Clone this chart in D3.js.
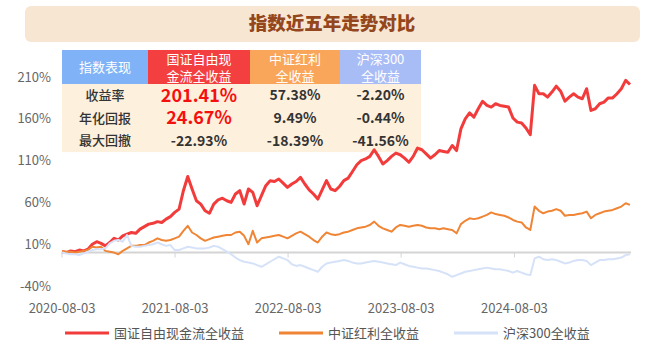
<!DOCTYPE html>
<html>
<head>
<meta charset="utf-8">
<script src="https://cdn.jsdelivr.net/npm/d3@7"></script>
<style>
  html, body { margin: 0; padding: 0; background: #fff; }
  svg { display: block; font-family: "Noto Sans CJK SC", "Noto Sans", sans-serif; }
</style>
</head>
<body>
<svg id="chart" width="658" height="352"></svg>
<script>
// ── Data (biweekly samples) ──
const startDate = new Date(2020, 7, 3);
const stepDays = 14;

const seriesNames = ["国证自由现金流全收益", "中证红利全收益", "沪深300全收益"];

const fcfValues = [
  1, 0, 2, 1, 3, 2, 4, 10, 13, 11,
  8, 12, 17, 15, 20, 22, 24, 23, 28, 31,
  34, 35, 37, 36, 40, 43, 48, 52, 74, 91,
  76, 62, 58, 50, 47, 58, 63, 65, 62, 60,
  70, 74, 58, 76, 72, 56, 68, 80, 86, 85,
  88, 83, 78, 82, 85, 90, 82, 75, 70, 64,
  75, 86, 76, 74, 79, 86, 89, 97, 105, 110,
  112, 115, 123, 115, 106, 110, 115, 119, 117, 113,
  108, 115, 125, 123, 118, 113, 117, 122, 121, 120,
  128, 122, 148, 160, 167, 162, 172, 181, 176, 174,
  178, 176, 175, 174, 161, 156, 155, 149, 141, 200,
  190, 190, 186, 192, 199, 193, 181, 186, 190, 186,
  184, 196, 170, 172, 178, 180, 185, 185, 190, 196,
  206, 201
];

const dividendValues = [
  2, 1, 1, 0, 1, 2, 3, 7, 6, 7,
  2, 1, 0, -2, 2, 5, 8, 8, 9, 9,
  12, 14, 17, 15, 14, 15, 17, 19, 26, 32,
  24, 21, 17, 14, 16, 18, 19, 20, 21, 21,
  24, 25, 20, 10, 26, 12, 17, 18, 19, 20,
  21, 19, 17, 20, 23, 25, 22, 19, 15, 12,
  19, 24, 22, 21, 22, 24, 25, 27, 29, 30,
  31, 33, 37, 32, 29, 27, 25, 30, 33, 32,
  31, 32, 33, 32, 30, 29, 29, 28, 29, 28,
  27, 23, 34, 38, 41, 40, 41, 43, 45, 48,
  46, 45, 44, 42, 39, 37, 36, 30, 27, 55,
  50, 47, 49, 50, 52, 50, 44, 45, 45, 46,
  47, 49, 41, 45, 47, 49, 50, 51, 53, 55,
  59, 57
];

const hs300Values = [
  0, -1, -2, -2, -3, -1, 1, 3, 4, 4,
  5, 11, 14, 15, 13, 21, 8, 7, 7, 8,
  9, 10, 12, 10, 8, 9, 3, 3, 5, 7,
  6, 5, 5, 5, 6, 8, 7, 4, 1, -2,
  -6, -9, -11, -12, -13, -15, -17, -14, -11, -8,
  -5, -7, -9, -14, -16, -15, -17, -19, -21, -23,
  -17, -13, -12, -11, -10, -9, -10, -12, -13, -13,
  -12, -11, -10, -11, -12, -13, -14, -15, -12, -14,
  -16, -17, -18, -19, -19, -20, -21, -22, -24, -26,
  -29, -27, -25, -23, -22, -21, -20, -19, -18, -19,
  -20, -20, -21, -22, -24, -22, -24, -26, -27, -7,
  -5, -8, -9, -8, -9, -11, -13, -12, -10, -9,
  -9, -10, -15, -12, -9, -9, -8, -8, -7, -6,
  -3, -2
];

const yTicks = [-40, 10, 60, 110, 160, 210];
const xTickLabels = ["2020-08-03", "2021-08-03", "2022-08-03", "2023-08-03", "2024-08-03"];

// table
const tableHeaders = ["指数表现", "国证自由现\n金流全收益", "中证红利\n全收益", "沪深300\n全收益"];
const tableRows = [
  ["收益率", "201.41%", "57.38%", "-2.20%"],
  ["年化回报", "24.67%", "9.49%", "-0.44%"],
  ["最大回撤", "-22.93%", "-18.39%", "-41.56%"]
];

const colors = ["#f23c3c", "#ef8535", "#d6e2f8"];
const headerColors = ["#7fb2f6", "#f33f40", "#f9a65b", "#a8bdf6"];

// ── Setup ──
const svg = d3.select("#chart");
const parseDate = d3.timeParse("%Y-%m-%d");
const dates = fcfValues.map((_, i) => d3.timeDay.offset(startDate, i * stepDays));

const x = d3.scaleTime()
  .domain([startDate, dates[dates.length - 1]])
  .range([62, 630]);
const y = d3.scaleLinear()
  .domain([-40, 210])
  .range([286, 77]);

// ── Title banner ──
svg.append("rect")
  .attr("x", 25).attr("y", 6)
  .attr("width", 615).attr("height", 36)
  .attr("rx", 6)
  .attr("fill", "#f7e7d2");
svg.append("text")
  .attr("x", 332).attr("y", 24)
  .attr("dy", "0.35em")
  .attr("text-anchor", "middle")
  .attr("font-size", 18.5)
  .attr("font-weight", "900")
  .attr("fill", "#94461c")
  .text("指数近五年走势对比");

// ── Y axis labels ──
svg.append("g")
  .selectAll("text")
  .data(yTicks)
  .join("text")
  .attr("x", 51)
  .attr("y", (d) => y(d))
  .attr("dy", "0.35em")
  .attr("text-anchor", "end")
  .attr("font-size", 13)
  .attr("fill", "#666")
  .text((d) => d + "%");

// ── X axis line at zero ──
const axisG = svg.append("g");
axisG.append("line")
  .attr("x1", 62).attr("x2", 631)
  .attr("y1", y(0)).attr("y2", y(0))
  .attr("stroke", "#d4d4d4")
  .attr("stroke-width", 2);

const tickDates = xTickLabels.map(parseDate);
axisG.selectAll("line.tick")
  .data(tickDates)
  .join("line")
  .attr("class", "tick")
  .attr("x1", (d) => x(d)).attr("x2", (d) => x(d))
  .attr("y1", y(0)).attr("y2", y(0) + 5)
  .attr("stroke", "#d4d4d4")
  .attr("stroke-width", 1);

axisG.selectAll("text")
  .data(tickDates)
  .join("text")
  .attr("x", (d) => x(d))
  .attr("y", 308)
  .attr("dy", "0.35em")
  .attr("text-anchor", "middle")
  .attr("font-size", 13)
  .attr("fill", "#666")
  .text((d, i) => xTickLabels[i]);

// ── Table ──
const colX = [62, 148, 250, 340, 421];
const headerTop = 50, headerBottom = 84, rowH = 22.7;
const tableG = svg.append("g");

tableG.append("rect")
  .attr("x", colX[0]).attr("y", headerBottom)
  .attr("width", colX[4] - colX[0]).attr("height", rowH * 3)
  .attr("fill", "#fdf0dd");

tableHeaders.forEach((h, i) => {
  const cx = (colX[i] + colX[i + 1]) / 2;
  tableG.append("rect")
    .attr("x", colX[i]).attr("y", headerTop)
    .attr("width", colX[i + 1] - colX[i]).attr("height", headerBottom - headerTop)
    .attr("fill", headerColors[i]);
  const lines = h.split("\n");
  lines.forEach((ln, k) => {
    tableG.append("text")
      .attr("x", cx)
      .attr("y", lines.length === 1 ? 67 : 59.5 + k * 17)
      .attr("dy", "0.35em")
      .attr("text-anchor", "middle")
      .attr("font-size", 13)
      .attr("fill", "#fff")
      .text(ln);
  });
});

tableRows.forEach((row, r) => {
  const cy = headerBottom + rowH * (r + 0.5);
  row.forEach((cell, c) => {
    const cx = (colX[c] + colX[c + 1]) / 2;
    const isHot = c === 1 && r < 2;
    tableG.append("text")
      .attr("x", cx).attr("y", cy)
      .attr("dy", "0.35em")
      .attr("text-anchor", "middle")
      .attr("font-size", isHot ? 18 : (c === 0 ? 13 : 14))
      .attr("font-weight", c === 0 ? "500" : "bold")
      .attr("fill", isHot ? "#f50f0f" : "#333")
      .text(cell);
  });
});

// ── Lines ──
const line = d3.line()
  .x((d, i) => x(dates[i]))
  .y((d) => y(d));

const allSeries = [fcfValues, dividendValues, hs300Values];
const widths = [3, 2, 2];
allSeries.forEach((vals, i) => {
  svg.append("path")
    .datum(vals)
    .attr("fill", "none")
    .attr("stroke", colors[i])
    .attr("stroke-width", widths[i])
    .attr("stroke-linejoin", "round")
    .attr("d", line);
});

// ── Legend ──
const legendX = [65, 279, 454];
const legendY = 333;
const legend = svg.append("g");
seriesNames.forEach((name, i) => {
  legend.append("line")
    .attr("x1", legendX[i]).attr("x2", legendX[i] + 44)
    .attr("y1", legendY).attr("y2", legendY)
    .attr("stroke", colors[i])
    .attr("stroke-width", 3);
  legend.append("text")
    .attr("x", legendX[i] + 49).attr("y", legendY)
    .attr("dy", "0.35em")
    .attr("font-size", 13)
    .attr("fill", "#555")
    .text(name);
});
</script>
</body>
</html>
